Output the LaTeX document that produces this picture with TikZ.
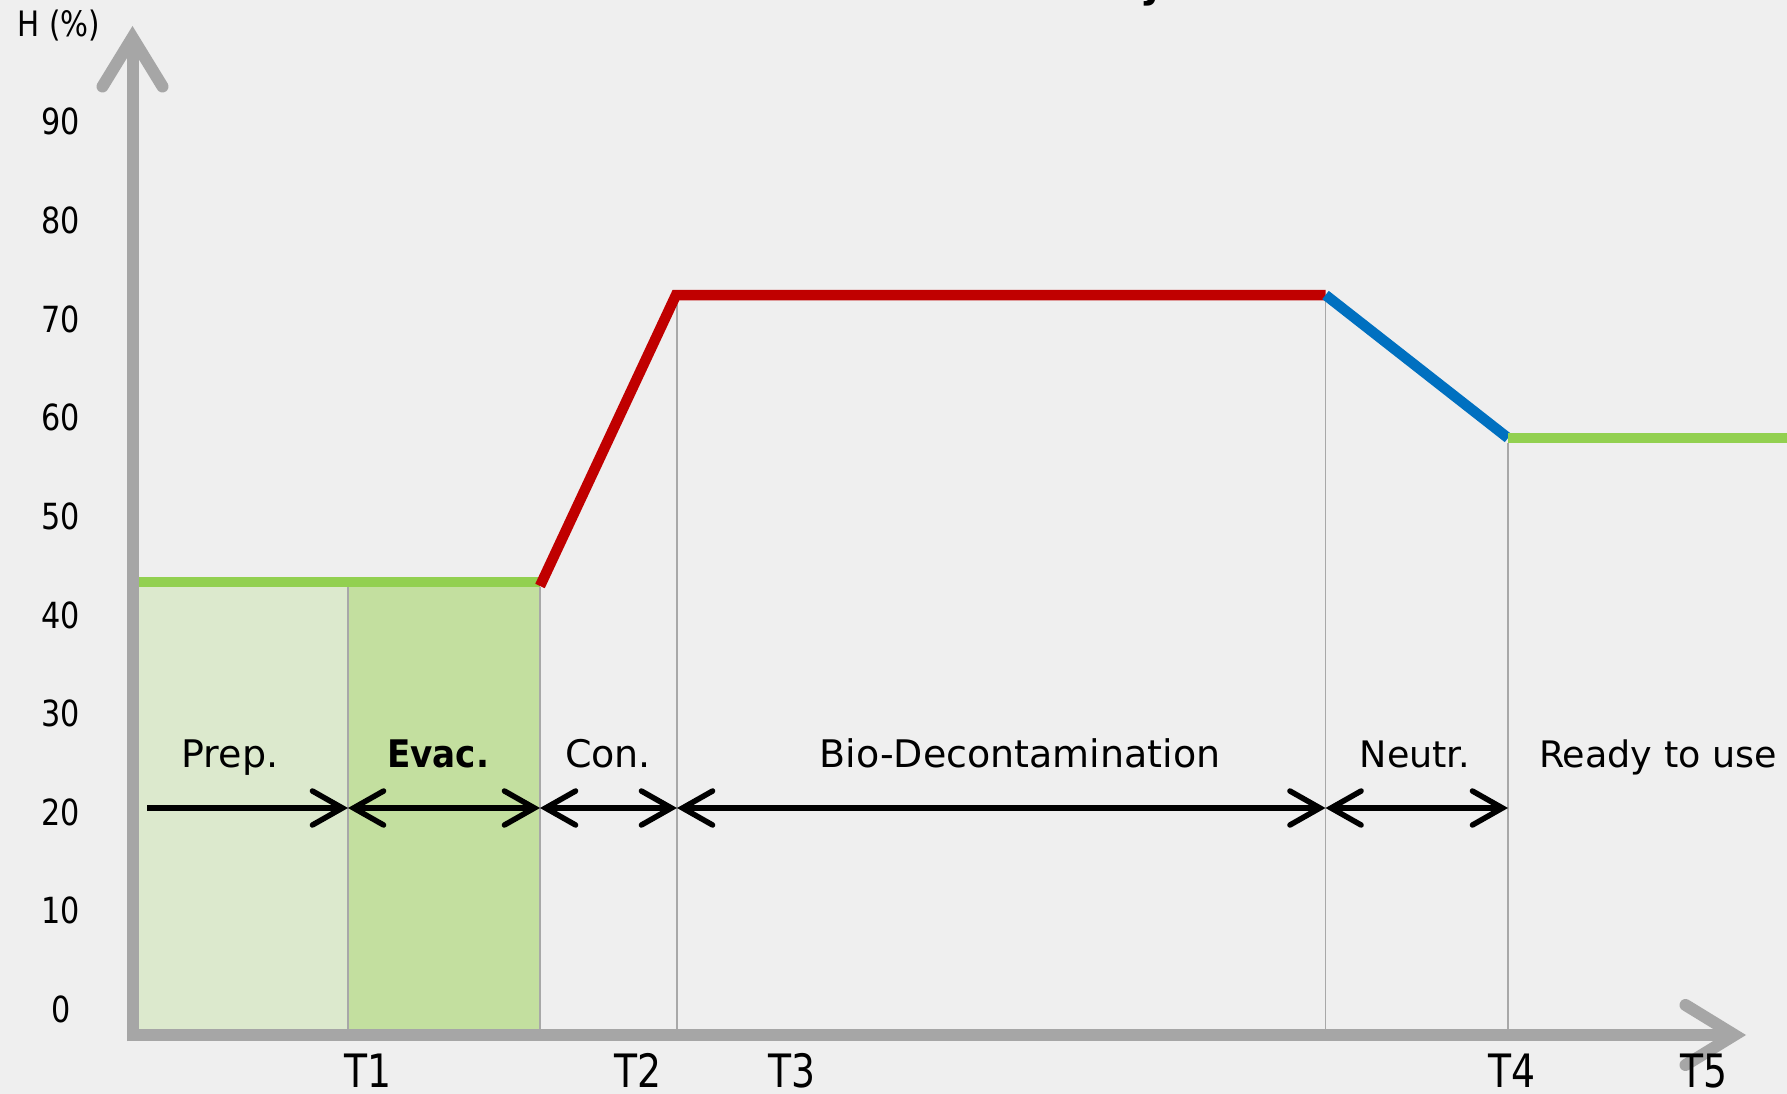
\documentclass[tikz,border=0pt]{standalone}
\usepackage{fontspec}
\setmainfont{DejaVu Sans}
\newfontfamily\narrowfont[FakeStretch=0.84]{DejaVu Sans}
\newfontfamily\tfont[FakeStretch=0.82]{DejaVu Sans}
\newfontfamily\evacfont[FakeStretch=0.9]{DejaVu Sans}
\usetikzlibrary{arrows.meta}
\definecolor{bg}{HTML}{EFEFEF}
\definecolor{axisgray}{HTML}{A6A6A6}
\definecolor{thingray}{HTML}{A8A8A8}
\definecolor{preplight}{HTML}{DCE9CD}
\definecolor{evacgreen}{HTML}{C3DF9F}
\definecolor{lgreen}{HTML}{92D050}
\definecolor{dred}{HTML}{C00000}
\definecolor{dblue}{HTML}{0070C0}
\tikzset{
  bk/.tip={Straight Barb[length=30pt,width=34pt,line cap=round]},
  ax/.tip={Straight Barb[length=49pt,width=60pt,line cap=round]},
  axisline/.style={draw=axisgray, line width=12pt, -ax},
  spanarrow/.style={draw=black, line width=5.5pt, bk-bk},
  firstarrow/.style={draw=black, line width=5.5pt, -bk},
  thinline/.style={draw=thingray, line width=1.5pt},
  curve/.style={line width=10.5pt},
  lbl/.style={anchor=base, inner sep=0pt, font=\fontsize{38}{40}\selectfont},
  lblwide/.style={anchor=base, inner sep=0pt, font=\fontsize{36.5}{38}\selectfont},
  ticklbl/.style={anchor=base, inner sep=0pt, font=\narrowfont\fontsize{36}{38}\selectfont},
  tlbl/.style={anchor=base, inner sep=0pt, text depth=0pt, font=\tfont\fontsize{46}{48}\selectfont},
}
\begin{document}
\begin{tikzpicture}[x=1pt,y=-1pt]
\useasboundingbox (0,0) rectangle (1787,1094);
\fill[bg] (0,0) rectangle (1787,1094);
\clip (0,0) rectangle (1787,1094);

% phase boxes
\fill[preplight] (138,587) rectangle (348,1030);
\fill[evacgreen] (348,587) rectangle (540,1030);

% key points
\coordinate (g0) at (133,582);
\coordinate (g1) at (540,582);
\coordinate (r1) at (676,295);
\coordinate (r2) at (1325.5,295);
\coordinate (b1) at (1508,438);
\coordinate (g2) at (1800,438);

% thin vertical separators
\coordinate (v1t) at (348,584); \coordinate (v1b) at (348,1030);
\coordinate (v2t) at (540,587); \coordinate (v2b) at (540,1030);
\coordinate (v3t) at (677,300); \coordinate (v3b) at (677,1030);
\coordinate (v4t) at (1325.5,300); \coordinate (v4b) at (1325.5,1030);
\coordinate (v5t) at (1508,443); \coordinate (v5b) at (1508,1030);
\draw[thinline] (v1t) -- (v1b);
\draw[thinline] (v2t) -- (v2b);
\draw[thinline] (v3t) -- (v3b);
\draw[thinline] (v4t) -- (v4b);
\draw[thinline] (v5t) -- (v5b);

% humidity curve
\draw[curve, lgreen] (g0) -- (g1);
\draw[curve, dred, line join=miter] (540,586) -- (r1) -- (r2);
\draw[curve, dblue] (r2) -- (b1);
\draw[curve, lgreen] (b1) -- (g2);

% axes
\coordinate (yb) at (132.5,1041);
\coordinate (yt) at (132.5,26);
\coordinate (xl) at (127,1035);
\coordinate (xr) at (1746,1035);
\draw[axisline] (yb) -- (yt);
\draw[axisline] (xl) -- (xr);

% phase arrows
\coordinate (a0) at (147,808);
\coordinate (a1) at (348,808);
\coordinate (a2) at (540,808);
\coordinate (a3) at (677,808);
\coordinate (a4) at (1325.5,808);
\coordinate (a5) at (1508,808);
\draw[firstarrow] (a0) -- (a1);
\draw[spanarrow] (a1) -- (a2);
\draw[spanarrow] (a2) -- (a3);
\draw[spanarrow] (a3) -- (a4);
\draw[spanarrow] (a4) -- (a5);

% phase labels
\node[lbl] (prep) at (230,767) {Prep.};
\node[lbl, font=\evacfont\bfseries\fontsize{38}{40}\selectfont] (evac) at (438,767) {Evac.};
\node[lbl] (con) at (608,767) {Con.};
\node[lbl] (bio) at (1020,767) {Bio-Decontamination};
\node[lblwide] (neutr) at (1415,767) {Neutr.};
\node[lblwide] (ready) at (1658,767) {Ready to use};

% y ticks
\foreach \v [count=\i from 0] in {90,80,70,60,50,40,30,20,10,0}
  \node[ticklbl] (tick\v) at (61,{135+\i*98.6}) {\v};
\node[ticklbl, font=\narrowfont\fontsize{35}{36}\selectfont] (hlabel) at (59,37) {H (\%)};

% time labels
\node[tlbl] (t1) at (368,1087) {T1};
\node[tlbl] (t2) at (638,1087) {T2};
\node[tlbl] (t3) at (792,1087) {T3};
\node[tlbl] (t4) at (1512,1087) {T4};
\node[tlbl] (t5) at (1704,1087) {T5};

% cut-off title
\node[anchor=base, inner sep=0pt, font=\bfseries\fontsize{40}{40}\selectfont] (title) at (1152,-2) {j};
\end{tikzpicture}
\end{document}
